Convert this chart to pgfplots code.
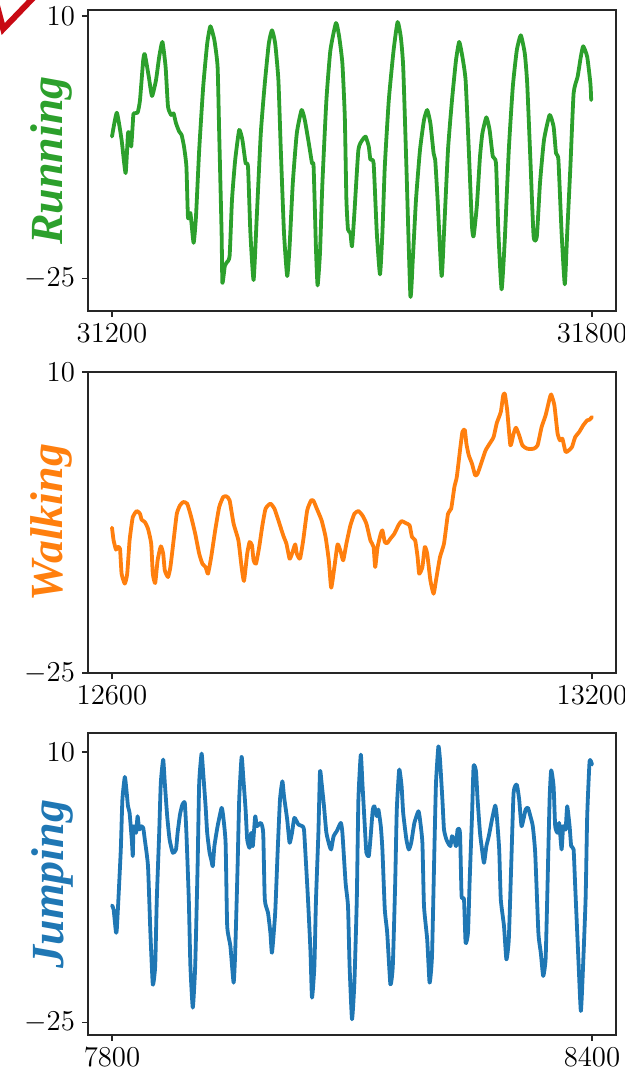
\documentclass[border=0pt]{standalone}
\usepackage{fontspec}
\usepackage{pgfplots}
\pgfplotsset{compat=1.18}
\newfontfamily\labelfont{Liberation Serif}

\definecolor{runcol}{HTML}{2CA02C}
\definecolor{walkcol}{HTML}{FF7F0E}
\definecolor{jumpcol}{HTML}{1F77B4}
\definecolor{markred}{RGB}{200,10,20}

% accelerometer traces, one table per activity
\pgfplotstableread{
x y
31200 -6.06
31206 -2.88
31212 -6.51
31217 -10.93
31220 -5.62
31222 -5.84
31224 -7.39
31226 -4.29
31227 -2.97
31232 -2.88
31235 -1.20
31239 4.11
31241 4.91
31246 1.90
31250 -0.66
31255 1.46
31259 4.56
31263 6.55
31267 3.23
31270 -2.08
31274 -3.19
31277 -2.97
31280 -4.29
31284 -5.40
31287 -5.84
31290 -7.39
31293 -10.05
31295 -16.90
31298 -16.24
31302 -20.22
31305 -16.68
31309 -7.83
31314 0.57
31319 6.33
31323 8.63
31328 6.77
31332 3.23
31334 -5.62
31337 -18.90
31338 -25.53
31341 -23.32
31343 -22.88
31347 -21.99
31350 -14.47
31354 -9.16
31359 -5.18
31363 -6.51
31367 -9.60
31370 -10.05
31373 -18.90
31377 -25.18
31381 -16.68
31386 -5.62
31391 1.02
31396 6.33
31400 8.10
31404 6.33
31408 1.46
31411 -7.83
31415 -18.90
31419 -24.65
31422 -20.67
31426 -12.26
31431 -5.62
31437 -2.52
31441 -3.85
31446 -6.95
31450 -9.60
31452 -10.05
31455 -21.11
31457 -25.89
31460 -21.55
31463 -12.26
31468 -1.20
31473 5.44
31480 9.07
31484 7.21
31488 3.67
31491 -3.41
31493 -14.47
31495 -18.45
31498 -18.90
31500 -20.67
31503 -16.24
31508 -7.83
31513 -6.51
31517 -6.06
31521 -7.39
31523 -9.16
31527 -9.60
31531 -18.90
31535 -24.43
31538 -18.90
31541 -10.05
31546 -1.20
31552 5.44
31557 9.20
31561 7.21
31564 3.23
31568 -10.05
31573 -27.30
31576 -22.44
31580 -14.47
31585 -7.83
31590 -3.85
31594 -2.52
31598 -4.29
31602 -8.28
31604 -9.16
31607 -14.47
31612 -24.65
31615 -18.90
31620 -7.83
31625 -1.20
31630 4.11
31634 6.55
31638 4.56
31642 1.46
31646 -7.83
31650 -18.01
31652 -19.34
31656 -15.36
31660 -8.72
31663 -5.62
31668 -3.50
31672 -5.18
31676 -8.72
31680 -9.60
31683 -18.90
31687 -26.42
31691 -19.78
31696 -7.83
31701 0.57
31706 5.44
31711 7.43
31716 5.00
31719 1.02
31723 -9.16
31727 -19.34
31731 -19.43
31735 -12.26
31740 -6.51
31747 -3.19
31752 -4.74
31755 -8.28
31758 -9.16
31762 -18.90
31766 -25.75
31769 -18.90
31773 -10.05
31777 -0.31
31782 1.90
31786 4.56
31789 5.97
31794 4.56
31798 1.02
31799 -1.20
}\running

\pgfplotstableread{
x y
12600 -8.10
12602 -9.58
12605 -10.66
12607 -10.35
12610 -10.55
12612 -13.45
12616 -14.61
12619 -13.45
12622 -9.58
12626 -6.86
12631 -6.17
12635 -6.48
12637 -7.17
12641 -7.44
12645 -8.22
12649 -9.96
12651 -13.45
12654 -14.54
12657 -11.90
12661 -10.27
12664 -11.13
12666 -13.06
12670 -13.84
12673 -12.68
12677 -9.58
12681 -6.48
12685 -5.51
12689 -5.12
12694 -5.31
12699 -6.86
12704 -8.80
12709 -11.13
12713 -12.29
12717 -12.68
12720 -13.45
12724 -11.51
12729 -8.41
12734 -5.70
12739 -4.54
12743 -4.46
12747 -4.92
12752 -7.64
12758 -9.58
12762 -12.68
12765 -14.30
12769 -11.13
12772 -9.77
12775 -10.16
12777 -11.90
12780 -12.29
12784 -10.35
12788 -7.83
12792 -5.89
12798 -5.31
12803 -5.89
12808 -7.25
12814 -8.99
12818 -9.96
12822 -11.71
12825 -11.13
12829 -10.04
12831 -11.13
12835 -11.71
12839 -9.58
12844 -6.09
12849 -4.92
12852 -5.00
12856 -5.89
12862 -7.25
12867 -9.19
12871 -11.90
12874 -15.08
12878 -12.68
12882 -10.04
12886 -10.93
12889 -11.90
12893 -9.96
12898 -7.83
12903 -6.48
12908 -6.17
12913 -6.67
12918 -7.64
12923 -9.58
12927 -10.35
12929 -12.68
12932 -10.35
12936 -8.80
12938 -8.41
12941 -9.77
12944 -9.89
12948 -9.38
12953 -8.80
12958 -7.83
12962 -7.33
12967 -7.56
12972 -7.83
12975 -9.19
12979 -9.58
12982 -11.51
12984 -13.45
12988 -12.68
12991 -10.35
12994 -11.13
12998 -14.23
13002 -15.78
13005 -14.23
13010 -11.51
13015 -9.96
13020 -6.48
13024 -5.89
13028 -3.37
13031 -2.21
13035 0.89
13038 3.02
13041 3.29
13043 1.66
13046 0.31
13050 -0.66
13054 -2.02
13057 -1.82
13062 -0.47
13067 0.89
13072 1.66
13077 2.44
13081 4.07
13086 5.35
13089 7.28
13091 7.48
13094 5.54
13098 1.47
13102 2.83
13105 3.52
13109 2.63
13113 1.47
13119 1.08
13127 1.08
13132 1.47
13137 3.60
13142 4.96
13147 6.90
13149 7.40
13153 6.12
13157 2.83
13160 2.05
13163 2.25
13167 0.70
13171 0.89
13175 1.28
13179 2.44
13184 3.02
13189 3.80
13194 4.38
13197 4.46
13200 4.77
}\walking

\pgfplotstableread{
x y
7800 -9.84
7802 -10.36
7805 -13.38
7806 -12.94
7808 -9.07
7811 -2.61
7813 3.84
7816 6.77
7818 5.14
7820 2.98
7822 2.12
7825 -1.75
7826 -3.47
7827 0.40
7830 -0.46
7832 1.69
7834 -0.03
7836 0.40
7839 0.19
7841 -1.32
7845 -4.77
7848 -13.38
7851 -20.05
7854 -17.68
7856 -9.07
7859 -0.46
7861 6.00
7864 9.01
7866 6.00
7869 1.69
7872 -1.32
7876 -3.04
7880 -2.61
7882 -0.46
7885 1.91
7888 3.20
7891 3.41
7893 -0.46
7896 -9.07
7898 -17.68
7901 -23.06
7904 -17.68
7907 -4.77
7909 6.00
7912 9.79
7914 7.29
7917 2.98
7919 -0.46
7922 -3.04
7924 -3.90
7926 -4.77
7928 -2.18
7932 0.40
7937 2.77
7939 1.69
7942 -1.75
7944 -12.51
7948 -15.10
7952 -19.83
7954 -15.96
7957 -4.77
7959 3.84
7962 9.36
7964 6.86
7967 2.55
7969 -1.32
7972 -2.40
7974 -0.46
7976 -2.18
7979 1.69
7981 0.40
7986 0.83
7989 -0.46
7991 -9.07
7995 -10.79
7998 -13.38
8000 -15.96
8004 -10.79
8007 -3.04
8010 3.84
8013 6.21
8015 4.28
8019 1.26
8022 -1.75
8025 -0.46
8028 1.48
8033 0.62
8038 0.40
8040 -0.03
8042 -3.47
8045 -9.07
8048 -15.53
8050 -21.77
8053 -17.68
8055 -9.07
8058 -0.46
8060 7.50
8062 6.00
8065 2.98
8068 -0.46
8072 -2.18
8074 -2.61
8077 -0.89
8081 -0.24
8086 0.83
8088 -0.46
8092 -6.92
8095 -9.93
8097 -17.68
8100 -24.57
8103 -19.83
8106 -9.07
8108 3.84
8111 9.66
8113 6.00
8116 0.40
8118 -3.04
8121 -3.47
8123 -1.32
8126 2.55
8128 2.98
8131 1.69
8133 2.55
8136 0.40
8138 -2.61
8141 -10.36
8144 -13.38
8148 -20.05
8151 -17.68
8154 -6.92
8156 2.55
8159 7.72
8162 5.57
8164 2.12
8168 -1.32
8171 -2.61
8174 -1.75
8178 0.83
8183 2.34
8185 1.26
8188 -1.75
8190 -9.93
8194 -14.24
8197 -19.83
8200 -16.39
8203 -2.61
8205 6.00
8208 10.73
8210 9.01
8213 3.84
8215 -0.03
8218 -1.32
8220 -1.75
8223 -2.18
8225 -0.89
8228 -1.32
8230 -2.18
8232 -0.03
8235 -0.46
8237 -8.64
8240 -9.07
8242 -14.67
8245 -13.38
8247 -6.92
8250 1.69
8252 8.15
8255 7.50
8257 3.84
8260 -0.46
8262 -2.18
8265 -4.33
8268 -2.18
8271 -0.89
8275 1.26
8279 3.07
8281 1.69
8284 -2.61
8286 -9.07
8290 -12.51
8293 -16.82
8296 -14.24
8299 -4.77
8302 4.71
8306 5.78
8309 3.84
8312 0.40
8317 2.55
8320 2.77
8323 1.69
8326 0.40
8329 -3.04
8333 -13.38
8336 -15.96
8339 -18.97
8342 -16.82
8344 -9.07
8347 3.84
8349 7.63
8352 5.57
8354 0.40
8357 -0.46
8359 0.83
8362 -2.61
8364 0.40
8367 -0.03
8369 2.98
8372 0.40
8374 -2.18
8377 -2.61
8379 -7.35
8383 -16.82
8386 -23.49
8388 -19.83
8392 -9.07
8394 1.69
8397 8.80
8400 8.37
}\jumping

\pgfplotsset{
  panel/.style={
    scale only axis,
    width=264pt,
    anchor=north west,
    scaled ticks=false,
    axis line style={black!85, line width=0.6pt},
    tick pos=left,
    tick align=outside,
    major tick length=3pt,
    every tick/.style={black!85, line width=0.6pt},
    tick label style={font=\fontsize{13.5}{15}\selectfont},
    ytick={-25,10},
    yticklabels={$-25$,$10$},
    every axis y label/.style={
      at={([xshift=-12.5pt]rel axis cs:0,0.5)},
      rotate=90, anchor=base,
      font=\labelfont\bfseries\itshape\fontsize{23}{26}\selectfont},
  },
  trace/.style={line width=1.9pt, line join=round, line cap=round,
    smooth, tension=0.3},
}

\begin{document}
\begin{tikzpicture}
\path[use as bounding box] (0,0) rectangle (312.5pt,-536pt);

% corner tick mark
\begin{scope}
  \clip (0,0) rectangle (312.5pt,-536pt);
  \draw[markred, line width=3pt, line join=miter]
    (-2.5pt,1pt) -- (1.6pt,-14.5pt) -- (17pt,1.5pt);
\end{scope}

\begin{axis}[panel, at={(44pt,-5pt)}, height=150.5pt,
  xmin=31170, xmax=31830, ymin=-29.3, ymax=10.8,
  xtick={31200,31800}, xticklabels={$31200$,$31800$},
  ylabel={\textcolor{runcol}{Running}}]
  \addplot[trace, runcol] table {\running};
\end{axis}

\begin{axis}[panel, at={(44pt,-186pt)}, height=150.5pt,
  xmin=12570, xmax=13230, ymin=-25, ymax=10,
  xtick={12600,13200}, xticklabels={$12600$,$13200$},
  ylabel={\textcolor{walkcol}{Walking}}]
  \addplot[trace, walkcol] table {\walking};
\end{axis}

\begin{axis}[panel, at={(44pt,-366.5pt)}, height=151pt,
  xmin=7770, xmax=8430, ymin=-26.6, ymax=12.45,
  xtick={7800,8400}, xticklabels={$7800$,$8400$},
  ylabel={\textcolor{jumpcol}{Jumping}}]
  \addplot[trace, jumpcol] table {\jumping};
\end{axis}
\end{tikzpicture}
\end{document}
